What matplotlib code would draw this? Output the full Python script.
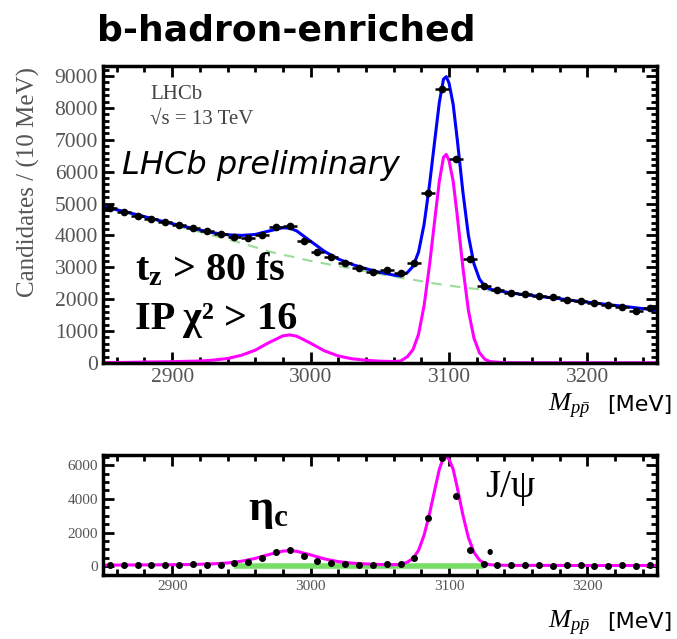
import matplotlib
matplotlib.use("Agg")
import matplotlib.pyplot as plt
from matplotlib.ticker import MultipleLocator
import numpy as np

plt.rcParams['mathtext.fontset'] = 'custom'
plt.rcParams['mathtext.rm'] = 'Liberation Serif'
plt.rcParams['mathtext.it'] = 'Liberation Serif:italic'
plt.rcParams['mathtext.bf'] = 'Liberation Serif:bold'

# bin centres (10 MeV bins)
bin_mass = [2855, 2865, 2875, 2885, 2895, 2905, 2915, 2925, 2935, 2945,
            2955, 2965, 2975, 2985, 2995, 3005, 3015, 3025, 3035, 3045,
            3055, 3065, 3075, 3085, 3095, 3105, 3115, 3125, 3135, 3145,
            3155, 3165, 3175, 3185, 3195, 3205, 3215, 3225, 3235, 3245]

# top panel: candidates per bin
top_counts = [4850, 4720, 4620, 4520, 4420, 4330, 4230, 4140, 4040, 3950,
              3910, 4000, 4270, 4290, 3840, 3490, 3310, 3150, 2970, 2860,
              2910, 2810, 3150, 5340, 8580, 6400, 3250, 2410, 2290, 2200,
              2170, 2100, 2060, 1990, 1930, 1870, 1810, 1760, 1620, 1720]

# bottom panel: background-subtracted yields
bot_counts = [60, 80, 50, 50, 60, 90, 130, 90, 80, 170,
              280, 480, 850, 950, 600, 320, 200, 150, 60, 90,
              120, 120, 520, 2880, 6400, 4150, 950, 160, 60, 50,
              100, 50, 30, 70, 90, 30, 30, 50, 0, 50]

# fit curves
curve_mass = [2850, 2860, 2870, 2880, 2890, 2900, 2910, 2920, 2930, 2940,
              2950, 2960, 2970, 2980, 2985, 2990, 3000, 3010, 3020, 3030,
              3040, 3050, 3060, 3065, 3070, 3074, 3078, 3082, 3086, 3090,
              3093, 3096, 3098, 3100, 3103, 3106, 3110, 3114, 3118, 3122,
              3126, 3130, 3140, 3150, 3160, 3170, 3180, 3190, 3200, 3210,
              3220, 3230, 3240, 3250]
bkg_curve = [4900, 4790, 4680, 4560, 4440, 4330, 4220, 4110, 3990, 3880,
             3760, 3630, 3500, 3390, 3350, 3300, 3200, 3120, 3040, 2960,
             2870, 2790, 2710, 2670, 2640, 2610, 2580, 2550, 2520, 2490,
             2470, 2450, 2440, 2430, 2410, 2390, 2370, 2350, 2330, 2310,
             2290, 2270, 2220, 2160, 2110, 2060, 2010, 1950, 1900, 1850,
             1800, 1750, 1700, 1650]
sig_curve = [10, 15, 20, 30, 35, 40, 50, 60, 90, 140,
             240, 400, 640, 850, 880, 840, 620, 380, 220, 130,
             85, 55, 45, 60, 200, 420, 900, 1800, 3100, 4600,
             5700, 6450, 6540, 6350, 5700, 4600, 3000, 1650, 780, 320,
             110, 40, 10, 5, 5, 5, 5, 5, 5, 5,
             5, 5, 5, 5]
bot_curve = [70, 75, 80, 85, 90, 95, 105, 120, 150, 200,
             300, 470, 700, 900, 930, 890, 680, 440, 280, 190,
             140, 110, 100, 110, 250, 470, 950, 1850, 3150, 4650,
             5750, 6450, 6500, 6350, 5750, 4650, 3050, 1700, 830, 370,
             160, 90, 60, 55, 55, 55, 55, 50, 50, 50,
             50, 50, 50, 50]
green_mass = [2945, 3125]
green_level = [0, 0]

GRAY = '#555555'


def style_axes(ax, ymajor, yminor, label_size):
    ax.set_xlim(2850, 3250)
    ax.xaxis.set_major_locator(MultipleLocator(100))
    ax.xaxis.set_minor_locator(MultipleLocator(20))
    ax.yaxis.set_major_locator(MultipleLocator(ymajor))
    ax.yaxis.set_minor_locator(MultipleLocator(yminor))
    ax.tick_params(which='both', direction='in', top=True, right=True,
                   width=2, colors='black', labelcolor=GRAY,
                   labelsize=label_size)
    ax.tick_params(which='major', length=8)
    ax.tick_params(which='minor', length=4)
    for lab in ax.get_xticklabels() + ax.get_yticklabels():
        lab.set_family('Liberation Serif')
    for sp in ax.spines.values():
        sp.set_linewidth(2.5)


fig = plt.figure(figsize=(6.77, 6.39), dpi=100)
ax1 = fig.add_axes([0.152, 0.432, 0.818, 0.465])
ax2 = fig.add_axes([0.152, 0.100, 0.818, 0.188])

# top panel
bkg = np.array(bkg_curve)
total = bkg + np.array(sig_curve)
ax1.plot(curve_mass, bkg_curve, ls=(0, (5, 4)), color='#99dd99', lw=1.5)
ax1.plot(curve_mass, sig_curve, color='#ff00ff', lw=2.2)
ax1.plot(curve_mass, total, color='#0000ff', lw=2.2)
ax1.errorbar(bin_mass, top_counts, xerr=5, yerr=np.sqrt(top_counts),
             fmt='o', ms=4.5, color='black', elinewidth=1.8, capsize=0)
ax1.set_ylim(0, 9320)
style_axes(ax1, 1000, 200, 15.5)
fig.text(0.042, 0.715, 'Candidates / (10 MeV)', family='Liberation Serif',
         fontsize=18, color=GRAY, rotation=90, ha='center', va='center')

ax1.text(0.085, 0.905, 'LHCb', transform=ax1.transAxes, family='Liberation Serif',
         fontsize=15, color='#444444', va='center')
ax1.text(0.085, 0.82, '√s = 13 TeV', transform=ax1.transAxes,
         family='Liberation Serif', fontsize=15, color='#444444', va='center')
ax1.text(0.035, 0.665, 'LHCb preliminary', transform=ax1.transAxes,
         family='DejaVu Sans', style='italic', fontsize=23, va='center')
ax1.text(0.058, 0.31, r't$_\mathbf{z}$ > 80 fs', transform=ax1.transAxes,
         family='Liberation Serif', weight='bold', fontsize=29, va='center')
ax1.text(0.058, 0.145, 'IP χ² > 16', transform=ax1.transAxes,
         family='Liberation Serif', weight='bold', fontsize=29, va='center')

fig.text(0.872, 0.364, r'$M_{p\bar{p}}$', fontsize=19, ha='right', va='center')
fig.text(0.993, 0.366, '[MeV]', family='DejaVu Sans', fontsize=16,
         ha='right', va='center')

fig.text(0.423, 0.953, 'b-hadron-enriched', family='DejaVu Sans',
         weight='bold', fontsize=26, ha='center', va='center')

# bottom panel
ax2.plot(green_mass, green_level, color='#77dd66', lw=4, solid_capstyle='butt')
ax2.plot(curve_mass, bot_curve, color='#ff00ff', lw=2.2)
ax2.plot(bin_mass, bot_counts, 'o', ms=4, color='black')
ax2.set_ylim(-520, 6600)
style_axes(ax2, 2000, 500, 11)

ax2.text(0.262, 0.53, r'η$_\mathbf{c}$', transform=ax2.transAxes,
         family='Liberation Serif', weight='bold', fontsize=32, va='center')
ax2.text(0.69, 0.73, 'J/ψ', transform=ax2.transAxes,
         family='Liberation Serif', fontsize=28, va='center')
ax2.text(0.69, 0.24, '.', transform=ax2.transAxes,
         family='Liberation Serif', weight='bold', fontsize=24, va='center')

fig.text(0.872, 0.025, r'$M_{p\bar{p}}$', fontsize=19, ha='right', va='center')
fig.text(0.993, 0.027, '[MeV]', family='DejaVu Sans', fontsize=16,
         ha='right', va='center')

fig.savefig('out.png', dpi=100)
